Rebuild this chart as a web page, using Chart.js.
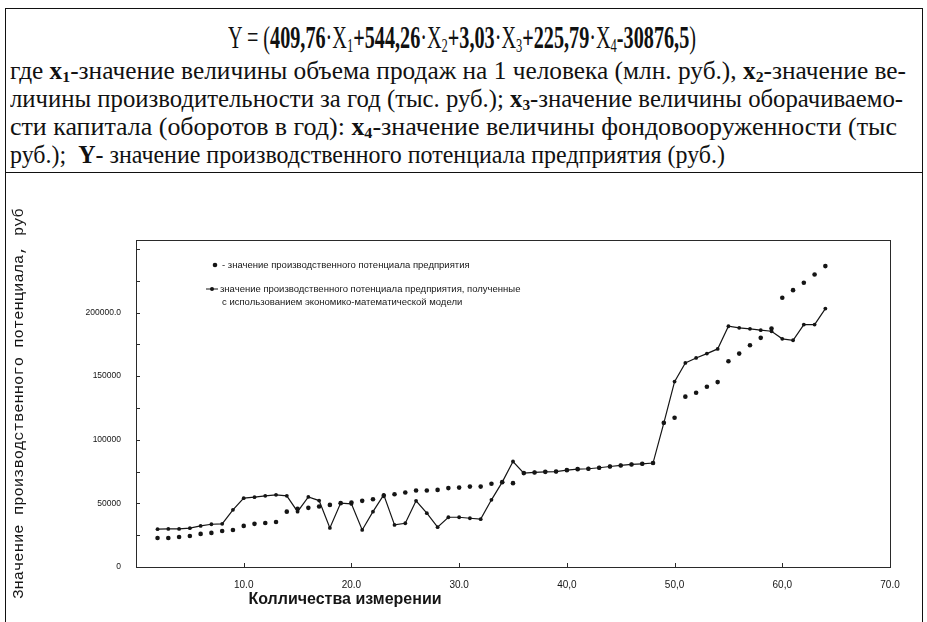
<!DOCTYPE html>
<html>
<head>
<meta charset="utf-8">
<script src="https://cdn.jsdelivr.net/npm/chart.js@4.4.1/dist/chart.umd.min.js"></script>
<style>
  html, body { margin: 0; padding: 0; background: #fff; width: 927px; height: 622px; overflow: hidden; }
  #frame { position: absolute; left: 5px; top: 8px; width: 916px; height: 620px; border: 1px solid #111; border-bottom: none; }
  #sep { position: absolute; left: 5px; top: 172px; width: 917px; border-top: 1px solid #111; }
  .ln { position: absolute; white-space: nowrap; transform-origin: 0 50%; font-family: "Liberation Serif", serif; color: #111; }
  .ln sub { font-size: 62%; line-height: 0; vertical-align: -0.22em; }
  #formula { font-size: 32px; line-height: 36px; top: 19px; left: 228px; }
  .p { font-size: 25px; line-height: 28px; left: 10px; }
  #wrap { position: absolute; left: 6px; top: 174px; width: 914px; height: 446px; }
</style>
</head>
<body>
<div id="frame"></div>
<div id="sep"></div>

<div class="ln" id="formula" data-w="468">Y = (<b>409,76</b>·X<sub>1</sub><b>+544,26</b>·X<sub>2</sub><b>+3,03</b>·X<sub>3</sub><b>+225,79</b>·X<sub>4</sub><b>-30876,5</b>)</div>
<div class="ln p" style="top:57px" data-w="896">где <b>x<sub>1</sub></b>-значение величины объема продаж на 1 человека (млн. руб.), <b>x<sub>2</sub></b>-значение ве-</div>
<div class="ln p" style="top:85px" data-w="893">личины производительности за год (тыс. руб.); <b>x<sub>3</sub></b>-значение величины оборачиваемо-</div>
<div class="ln p" style="top:113px" data-w="887">сти капитала (оборотов в год): <b>x<sub>4</sub></b>-значение величины фондовооруженности (тыс</div>
<div class="ln p" style="top:141px" data-w="715">руб.);&nbsp; <b>Y</b>- значение производственного потенциала предприятия (руб.)</div>

<div id="wrap"><canvas id="chart" width="914" height="446"></canvas></div>

<script>
// номер измерения
const measureNo = [2, 3, 4, 5, 6, 7, 8, 9, 10, 11, 12, 13, 14, 15, 16, 17, 18, 19, 20, 21,
  22, 23, 24, 25, 26, 27, 28, 29, 30, 31, 32, 33, 34, 35, 36, 37, 38, 39, 40, 41,
  42, 43, 44, 45, 46, 47, 48, 49, 50, 51, 52, 53, 54, 55, 56, 57, 58, 59, 60, 61,
  62, 63, 64];

// фактическое значение потенциала
const actualValues = [22800, 22800, 23600, 24400, 26000, 26800, 28300, 29100, 32300, 33900,
  34600, 35400, 43500, 45700, 46500, 47500, 48800, 50200, 50600, 52000,
  53300, 55900, 57200, 58500, 60100, 60100, 60600, 62000, 62400, 63200,
  63200, 65400, 66700, 65900, 73800, 74300, 74800, 75000, 76100, 76900,
  77200, 78000, 79000, 79800, 80600, 81100, 81700, 113400, 117300, 133900,
  137000, 141700, 145300, 161700, 167700, 174300, 180100, 187400, 211600, 217600,
  223400, 229900, 236500];

// значение по модели
const modelValues = [29700, 29900, 29900, 30500, 32300, 33600, 33900, 44900, 54100, 54900,
  55900, 56700, 55900, 43500, 55100, 52200, 30700, 50200, 49600, 29100,
  43500, 56700, 33100, 34400, 52000, 42300, 31300, 39100, 39100, 38300,
  37600, 52800, 66700, 82900, 73800, 74300, 74800, 75000, 76100, 76900,
  77200, 78000, 79000, 79800, 80600, 81100, 81700, 113100, 145700, 160400,
  164300, 167700, 171400, 189200, 188000, 187200, 186100, 185300, 179300, 178200,
  190500, 190500, 203100];

const xTickValues = [0, 10, 20, 30, 40, 50, 60, 70];
const xTickLabels = ["", "10.0", "20.0", "30.0", "40,0", "50,0", "60,0", "70.0"];
const yTickValues = [0, 25000, 50000, 75000, 100000, 125000, 150000, 175000, 200000, 225000, 250000];
const yTickLabels = ["0", "", "50000", "", "100000", "", "150000", "", "200000.0", "", ""];

const actualLabel = ["- значение производственного потенциала предприятия"];
const modelLabel = ["значение производственного потенциала предприятия, полученные",
  "с использованием экономико-математической модели"];

const ink = "#151515";

const frameAndLegend = {
  id: "frameAndLegend",
  afterDraw(chart) {
    const { ctx, chartArea: a, scales } = chart;
    ctx.save();
    ctx.strokeStyle = "#2a2a2a";
    ctx.lineWidth = 1;
    ctx.strokeRect(a.left + 0.5, a.top + 0.5, a.right - a.left, a.bottom - a.top);

    // short inward tick marks
    ctx.beginPath();
    scales.y.ticks.forEach(t => {
      const y = Math.round(scales.y.getPixelForValue(t.value)) + 0.5;
      ctx.moveTo(a.left, y); ctx.lineTo(a.left + 4, y);
    });
    scales.x.ticks.forEach(t => {
      const x = Math.round(scales.x.getPixelForValue(t.value)) + 0.5;
      ctx.moveTo(x, a.bottom); ctx.lineTo(x, a.bottom - 4);
    });
    ctx.stroke();

    // legend inside plot
    ctx.fillStyle = ink;
    ctx.strokeStyle = ink;
    ctx.font = '9.5px "Liberation Sans"';
    ctx.textBaseline = "middle";
    ctx.textAlign = "left";
    let lx = a.left + 79, ly = a.top + 25;
    ctx.beginPath(); ctx.arc(lx, ly, 2.3, 0, Math.PI * 2); ctx.fill();
    actualLabel.forEach((s, i) => ctx.fillText(s, lx + 7, ly + i * 13));

    lx = a.left + 76; ly = a.top + 49;
    ctx.beginPath(); ctx.moveTo(lx - 6, ly); ctx.lineTo(lx + 6, ly); ctx.stroke();
    ctx.beginPath(); ctx.arc(lx, ly, 2, 0, Math.PI * 2); ctx.fill();
    modelLabel.forEach((s, i) => ctx.fillText(s, lx + 8 + (i ? 2 : 0), ly + i * 13));

    // x axis title, off-centre as in the source
    ctx.font = 'bold 16px "Liberation Sans"';
    ctx.textAlign = "center";
    ctx.fillText("Колличества измерении", a.left + 209, a.bottom + 33);
    ctx.restore();
  }
};

new Chart(document.getElementById("chart"), {
  type: "line",
  data: {
    datasets: [
      {
        label: actualLabel.join(" "),
        data: measureNo.map((x, i) => ({ x, y: actualValues[i] })),
        showLine: false,
        pointRadius: 2.3,
        pointBackgroundColor: ink,
        pointBorderWidth: 0,
      },
      {
        label: modelLabel.join(" "),
        data: measureNo.map((x, i) => ({ x, y: modelValues[i] })),
        borderColor: ink,
        borderWidth: 1.2,
        tension: 0,
        pointRadius: 1.9,
        pointBackgroundColor: ink,
        pointBorderWidth: 0,
      },
    ],
  },
  options: {
    responsive: false,
    animation: false,
    events: [],
    layout: { padding: { top: 66, right: 30, bottom: 0, left: 0 } },
    plugins: { legend: { display: false }, tooltip: { enabled: false } },
    scales: {
      x: {
        type: "linear",
        min: 0,
        max: 70,
        afterBuildTicks: s => { s.ticks = xTickValues.map(v => ({ value: v })); },
        afterFit: s => { s.height = 53; },
        grid: { display: false },
        border: { display: false },
        ticks: {
          padding: 4,
          color: ink,
          font: { family: '"Liberation Sans"', size: 10 },
          maxRotation: 0,
          callback: v => xTickLabels[xTickValues.indexOf(v)] ?? "",
        },
      },
      y: {
        min: 0,
        max: 257000,
        afterBuildTicks: s => { s.ticks = yTickValues.map(v => ({ value: v })); },
        afterFit: s => { s.width = 130; },
        grid: { display: false },
        border: { display: false },
        ticks: {
          padding: 7,
          color: ink,
          font: { family: '"Liberation Sans"', size: 8.5 },
          callback: v => yTickLabels[yTickValues.indexOf(v)] ?? "",
        },
        title: {
          display: true,
          text: "Значение производственного потенциала, руб",
          color: ink,
          font: { family: '"Liberation Mono"', size: 15.5 },
          padding: { top: 4, bottom: 0 },
        },
      },
    },
  },
  plugins: [frameAndLegend],
});

// squeeze the scanned-text lines to the widths they take in the source
document.fonts.ready.then(() => {
  document.querySelectorAll(".ln[data-w]").forEach(el => {
    const w = el.getBoundingClientRect().width;
    el.style.transform = `scaleX(${(+el.dataset.w / w).toFixed(4)})`;
  });
});
</script>
</body>
</html>
